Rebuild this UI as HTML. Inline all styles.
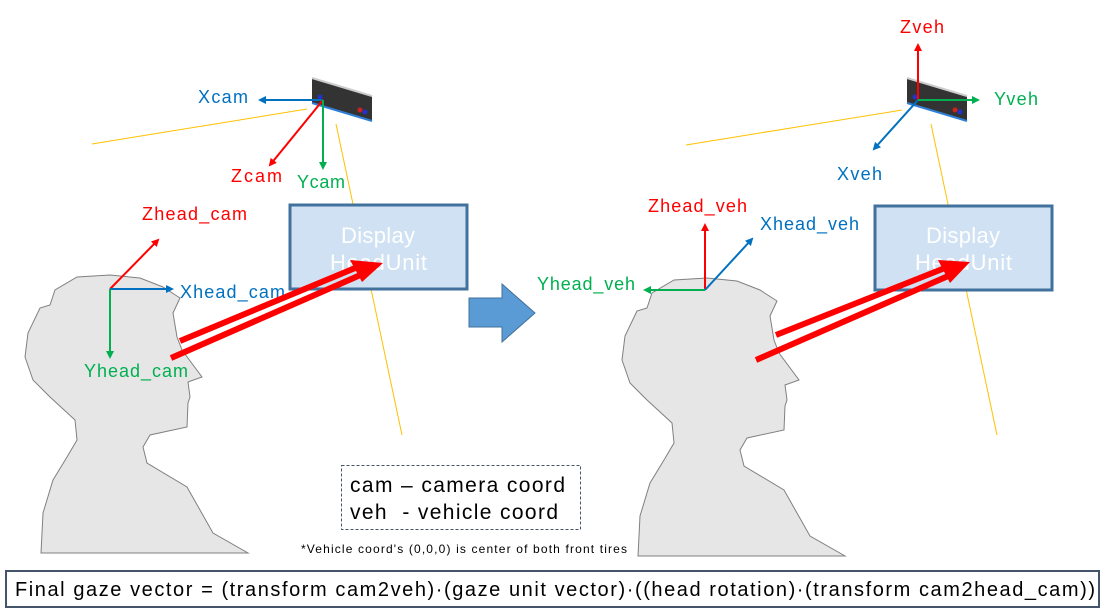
<!DOCTYPE html>
<html><head><meta charset="utf-8"><style>
body{margin:0;background:#fff}
svg{display:block}
text{font-family:"Liberation Sans","Noto Sans CJK KR",sans-serif}
</style></head><body>
<svg width="1107" height="613" viewBox="0 0 1107 613">
<defs>
<marker id="ar" markerWidth="8" markerHeight="8" refX="6" refY="4" orient="auto" markerUnits="userSpaceOnUse"><path d="M0,0 L8,4 L0,8 z" fill="#ff0000"/></marker>
<marker id="ab" markerWidth="8" markerHeight="8" refX="6" refY="4" orient="auto" markerUnits="userSpaceOnUse"><path d="M0,0 L8,4 L0,8 z" fill="#0070c0"/></marker>
<marker id="ag" markerWidth="8" markerHeight="8" refX="6" refY="4" orient="auto" markerUnits="userSpaceOnUse"><path d="M0,0 L8,4 L0,8 z" fill="#00b050"/></marker>
<g id="head"><path d="M110,275 L77,277 L55,290 L50,305 L40,308 L28,333 L25,357 L33,380 L50,397 L75,420 L77,440 L67,457 L53,480 L43,513 L41,553 L248,553 L213,533 L187,487 L147,463 L143,447 L150,435 L187,427 L188,403 L190,397 L188,382 L202,377 L182,350 L177,337 L173,313 L180,298 L163,287 L140,278 Z" fill="#e6e6e6" stroke="#808080" stroke-width="1"/></g>
<g id="cam"><path d="M0,0 L60,18 L60,43 L0,25 Z" fill="#333"/><path d="M0,0 L60,18" stroke="#ccc" stroke-width="2"/><path d="M0,25 L60,43" stroke="#2f7fd8" stroke-width="2"/><circle cx="8" cy="19" r="2.5" fill="#2233cc"/><circle cx="48" cy="32" r="2.5" fill="#cc2222"/><circle cx="53" cy="34" r="2.5" fill="#2233cc"/></g>
</defs>

<use href="#head"/>
<use href="#cam" transform="translate(312,78)"/>
<line x1="92" y1="144" x2="307" y2="109" stroke="#ffc000" stroke-width="1"/>
<line x1="336" y1="124" x2="402" y2="435" stroke="#ffc000" stroke-width="1"/>
<rect x="290" y="205" width="177" height="84" fill="#cfe1f2" stroke="#41719c" stroke-width="3"/>
<text x="341" y="243" font-size="22" fill="#fff" textLength="74">Display</text>
<text x="330" y="270" font-size="22" fill="#fff" textLength="97">HeadUnit</text>
<line x1="323" y1="100" x2="260" y2="100" stroke="#0070c0" stroke-width="2" marker-end="url(#ab)"/>
<line x1="323" y1="100" x2="270" y2="165" stroke="#ff0000" stroke-width="2" marker-end="url(#ar)"/>
<line x1="323" y1="100" x2="323" y2="168" stroke="#00b050" stroke-width="2" marker-end="url(#ag)"/>
<text x="198" y="103" font-size="18" fill="#0070c0" textLength="50">Xcam</text>
<text x="231" y="182" font-size="18" fill="#ff0000" textLength="51">Zcam</text>
<text x="297" y="188" font-size="18" fill="#00b050" textLength="48">Ycam</text>
<line x1="110" y1="289" x2="158" y2="240" stroke="#ff0000" stroke-width="2" marker-end="url(#ar)"/>
<line x1="110" y1="289" x2="172" y2="289" stroke="#0070c0" stroke-width="2" marker-end="url(#ab)"/>
<line x1="110" y1="289" x2="110" y2="357" stroke="#00b050" stroke-width="2" marker-end="url(#ag)"/>
<text x="142" y="220" font-size="18" fill="#ff0000" textLength="105">Zhead_cam</text>
<text x="180" y="298" font-size="18" fill="#0070c0" textLength="105">Xhead_cam</text>
<text x="84" y="377" font-size="18" fill="#00b050" textLength="104">Yhead_cam</text>
<g>
<line x1="180" y1="341" x2="360" y2="266" stroke="#ff0000" stroke-width="6"/>
<line x1="171" y1="358" x2="365" y2="273" stroke="#ff0000" stroke-width="6"/>
<path d="M383,263 L350,260 L362,282 Z" fill="#ff0000"/>
</g>

<path d="M469,298 L502,298 L502,284 L535,313 L502,342 L502,327 L469,327 Z" fill="#5b9bd5" stroke="#41719c" stroke-width="1"/>

<use href="#head" transform="translate(597,3)"/>
<use href="#cam" transform="translate(907,78)"/>
<line x1="686" y1="145" x2="902" y2="110" stroke="#ffc000" stroke-width="1"/>
<line x1="931" y1="124" x2="997" y2="435" stroke="#ffc000" stroke-width="1"/>
<rect x="875" y="206" width="177" height="84" fill="#cfe1f2" stroke="#41719c" stroke-width="3"/>
<text x="926" y="243" font-size="22" fill="#fff" textLength="74">Display</text>
<text x="915" y="270" font-size="22" fill="#fff" textLength="97">HeadUnit</text>
<line x1="918" y1="100" x2="918" y2="45" stroke="#ff0000" stroke-width="2" marker-end="url(#ar)"/>
<line x1="918" y1="100" x2="978" y2="100" stroke="#00b050" stroke-width="2" marker-end="url(#ag)"/>
<line x1="918" y1="100" x2="874" y2="149" stroke="#0070c0" stroke-width="2" marker-end="url(#ab)"/>
<text x="900" y="33" font-size="18" fill="#ff0000" textLength="44">Zveh</text>
<text x="994" y="105" font-size="18" fill="#00b050" textLength="44">Yveh</text>
<text x="837" y="180" font-size="18" fill="#0070c0" textLength="45">Xveh</text>
<line x1="705" y1="290" x2="705" y2="225" stroke="#ff0000" stroke-width="2" marker-end="url(#ar)"/>
<line x1="705" y1="290" x2="752" y2="239" stroke="#0070c0" stroke-width="2" marker-end="url(#ab)"/>
<line x1="705" y1="290" x2="645" y2="290" stroke="#00b050" stroke-width="2" marker-end="url(#ag)"/>
<text x="648" y="212" font-size="18" fill="#ff0000" textLength="99">Zhead_veh</text>
<text x="760" y="230" font-size="18" fill="#0070c0" textLength="99">Xhead_veh</text>
<text x="537" y="290" font-size="18" fill="#00b050" textLength="98">Yhead_veh</text>
<g>
<line x1="776" y1="335" x2="950" y2="266" stroke="#ff0000" stroke-width="6"/>
<line x1="756" y1="360" x2="955" y2="273" stroke="#ff0000" stroke-width="6"/>
<path d="M970,262 L938,260 L950,283 Z" fill="#ff0000"/>
</g>

<rect x="341.5" y="465.5" width="239" height="64" fill="none" stroke="#44546a" stroke-width="1" stroke-dasharray="3,2"/>
<text x="350" y="492" font-size="21" fill="#000" textLength="215">cam – camera coord</text>
<text x="350" y="519" font-size="21" fill="#000" xml:space="preserve" textLength="208">veh  - vehicle coord</text>
<text x="301" y="553" font-size="12" fill="#000" textLength="326">*Vehicle coord's (0,0,0) is center of both front tires</text>

<rect x="6" y="571" width="1093" height="36" fill="#fff" stroke="#44546a" stroke-width="2"/>
<text x="15" y="596" font-size="20" fill="#000" textLength="1080">Final gaze vector = (transform cam2veh)·(gaze unit vector)·((head rotation)·(transform cam2head_cam))</text>
</svg>
</body></html>
